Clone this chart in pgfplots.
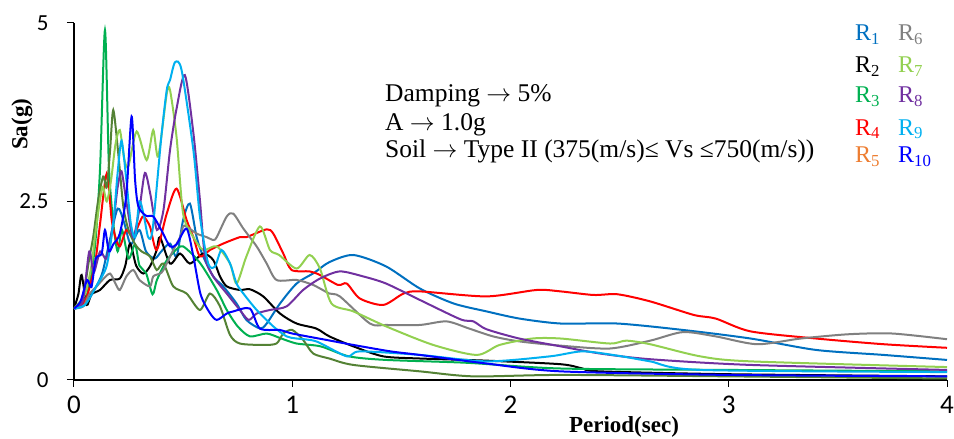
\documentclass[border=0pt]{standalone}
\usepackage{fontspec}
\setmainfont{Liberation Serif}
\newfontfamily\carlito{Carlito}
\usepackage{graphicx}
\usepackage{pgfplots}
\pgfplotsset{compat=1.18}
\definecolor{cA}{HTML}{0070C0}
\definecolor{cC}{HTML}{00B050}
\definecolor{cD}{HTML}{FF0000}
\definecolor{cE}{HTML}{548235}
\definecolor{cEleg}{HTML}{ED7D31}
\definecolor{cF}{HTML}{808080}
\definecolor{cG}{HTML}{92D050}
\definecolor{cH}{HTML}{7030A0}
\definecolor{cI}{HTML}{00B0F0}
\definecolor{cJ}{HTML}{0000FF}
\begin{document}
\begin{tikzpicture}
\begin{axis}[name=ax, x=218.3pt, y=71.4pt,
  xmin=0, xmax=4, ymin=0, ymax=5,
  axis lines*=left,
  axis line style={line width=2pt},
  xtick={0,1,2,3,4}, ytick={0,2.5,5},
  tick align=outside, major tick length=7pt,
  tick style={black, line width=1pt},
  /pgf/number format/assume math mode=true,
  yticklabel style={font=\fontsize{23}{26}\selectfont\carlito, xshift=-15pt},
  xticklabel style={font=\fontsize{27}{30}\selectfont\carlito, yshift=-6pt},
  xlabel={\fontsize{23}{27}\selectfont\bfseries Period(sec)},
  ylabel={\fontsize{23}{27}\selectfont\bfseries Sa(g)},
  xlabel style={at={(axis description cs:0.63,-0.1485)}, anchor=base},
  ylabel style={at={(axis description cs:-0.0596,0.716)}, anchor=center},
  every axis plot/.append style={line width=2pt, smooth, tension=0.45, no markers},
]
% R1
\addplot[cA] coordinates {(0,1.0)(0.05,1.05)(0.1,1.3)(0.13,1.5)(0.16,1.9)(0.2,2.4)(0.23,2.2)(0.26,1.9)(0.3,2.1)(0.33,1.8)(0.37,1.7)(0.4,1.8)(0.44,1.91)(0.47,1.73)(0.5,2.24)(0.531,2.47)(0.562,2.0)(0.592,1.73)(0.638,1.45)(0.684,1.31)(0.745,1.07)(0.79,0.84)(0.852,0.72)(0.883,0.79)(0.944,1.07)(1.02,1.35)(1.1,1.5)(1.17,1.65)(1.28,1.75)(1.43,1.59)(1.585,1.28)(1.74,1.07)(1.89,0.96)(2.04,0.86)(2.23,0.79)(2.49,0.79)(2.79,0.70)(3.10,0.58)(3.40,0.42)(3.71,0.35)(4,0.28)};
% R2
\addplot[black] coordinates {(0,1.0)(0.02,1.2)(0.035,1.47)(0.058,1.05)(0.08,1.2)(0.119,1.26)(0.165,1.40)(0.21,1.42)(0.235,1.6)(0.257,1.91)(0.285,1.6)(0.318,1.49)(0.35,1.6)(0.379,1.82)(0.394,2.0)(0.44,1.63)(0.486,1.77)(0.531,1.63)(0.592,1.77)(0.638,1.68)(0.669,1.45)(0.70,1.31)(0.76,1.26)(0.806,1.27)(0.867,1.17)(0.944,0.93)(1.02,0.79)(1.11,0.72)(1.17,0.61)(1.28,0.47)(1.417,0.33)(1.585,0.30)(1.89,0.27)(2.23,0.22)(2.33,0.16)(2.41,0.12)(3,0.08)(4,0.05)};
% R3
\addplot[cC] coordinates {(0,1.0)(0.05,1.1)(0.08,1.5)(0.10,2.0)(0.12,3.0)(0.142,4.9)(0.16,3.0)(0.18,2.2)(0.2,1.8)(0.22,2.1)(0.25,1.7)(0.28,1.9)(0.3,1.6)(0.33,1.5)(0.36,1.2)(0.38,1.4)(0.42,1.65)(0.46,1.8)(0.5,1.87)(0.577,1.64)(0.654,1.26)(0.70,0.98)(0.75,0.75)(0.806,0.61)(0.883,0.65)(0.95,0.58)(1.02,0.51)(1.13,0.47)(1.26,0.33)(1.43,0.28)(1.8,0.24)(2.23,0.16)(3,0.14)(4,0.12)};
% R4
\addplot[cD] coordinates {(0,1.0)(0.05,1.1)(0.08,1.4)(0.1,1.7)(0.12,2.2)(0.15,2.89)(0.173,2.24)(0.19,2.0)(0.21,1.87)(0.24,2.1)(0.27,2.0)(0.3,2.2)(0.318,2.29)(0.348,2.15)(0.379,1.82)(0.425,2.33)(0.47,2.68)(0.516,2.24)(0.547,2.0)(0.577,1.73)(0.623,1.82)(0.684,1.91)(0.76,2.0)(0.79,2.0)(0.883,2.11)(0.913,2.05)(0.959,1.77)(0.997,1.54)(1.08,1.52)(1.127,1.47)(1.21,1.33)(1.25,1.35)(1.31,1.14)(1.417,1.05)(1.51,1.21)(1.585,1.24)(1.89,1.17)(2.12,1.26)(2.23,1.24)(2.38,1.19)(2.49,1.2)(2.64,1.10)(2.84,0.91)(2.94,0.86)(3.10,0.68)(3.40,0.58)(3.71,0.50)(4,0.45)};
% R5
\addplot[cE] coordinates {(0,1.0)(0.03,1.05)(0.05,1.31)(0.07,1.7)(0.088,2.0)(0.111,2.52)(0.134,2.85)(0.15,2.7)(0.165,3.2)(0.18,3.78)(0.203,3.17)(0.226,2.43)(0.25,2.1)(0.28,1.9)(0.31,1.8)(0.348,1.73)(0.379,1.54)(0.41,1.63)(0.455,1.31)(0.516,1.21)(0.577,0.98)(0.623,1.21)(0.669,1.03)(0.715,0.63)(0.76,0.51)(0.867,0.49)(0.928,0.51)(0.959,0.65)(1.0,0.70)(1.05,0.56)(1.096,0.37)(1.17,0.30)(1.28,0.21)(1.585,0.12)(1.83,0.05)(2.23,0.07)(3,0.05)(4,0.02)};
% R6
\addplot[cF] coordinates {(0,1.0)(0.043,1.03)(0.07,1.2)(0.104,1.31)(0.13,1.4)(0.165,1.49)(0.19,1.35)(0.21,1.26)(0.24,1.45)(0.272,1.54)(0.3,1.4)(0.348,1.31)(0.363,1.45)(0.394,1.49)(0.41,1.54)(0.455,1.82)(0.486,2.0)(0.50,2.15)(0.516,2.15)(0.562,2.05)(0.608,2.0)(0.638,1.96)(0.654,2.0)(0.70,2.29)(0.73,2.33)(0.776,2.12)(0.837,1.87)(0.883,1.63)(0.928,1.40)(1.02,1.40)(1.096,1.33)(1.17,1.21)(1.218,1.17)(1.356,0.79)(1.43,0.77)(1.585,0.77)(1.707,0.82)(1.81,0.72)(1.92,0.61)(2.04,0.54)(2.23,0.48)(2.455,0.44)(2.64,0.55)(2.79,0.67)(2.94,0.61)(3.13,0.50)(3.33,0.58)(3.55,0.64)(3.75,0.65)(4,0.57)};
% R7
\addplot[cG] coordinates {(0,1.0)(0.05,1.2)(0.08,1.6)(0.1,2.1)(0.13,2.7)(0.15,2.5)(0.17,2.8)(0.19,3.3)(0.21,3.5)(0.23,3.1)(0.249,2.99)(0.287,3.48)(0.333,3.08)(0.363,3.5)(0.386,3.13)(0.425,4.01)(0.44,4.06)(0.47,3.4)(0.50,2.33)(0.547,2.0)(0.592,1.82)(0.654,1.87)(0.715,1.63)(0.745,1.35)(0.79,1.73)(0.852,2.15)(0.898,1.82)(0.94,1.75)(1.02,1.56)(1.08,1.75)(1.127,1.56)(1.18,1.07)(1.28,0.96)(1.43,0.75)(1.646,0.49)(1.845,0.35)(1.95,0.49)(2.10,0.58)(2.23,0.58)(2.455,0.51)(2.53,0.55)(2.64,0.50)(2.87,0.33)(3.10,0.26)(4,0.18)};
% R8
\addplot[cH] coordinates {(0,1.0)(0.04,1.1)(0.07,1.8)(0.09,1.5)(0.12,1.8)(0.15,1.7)(0.18,2.2)(0.2,2.7)(0.218,2.92)(0.24,2.5)(0.27,2.0)(0.3,2.4)(0.325,2.9)(0.35,2.6)(0.38,2.1)(0.41,2.38)(0.44,3.22)(0.47,3.8)(0.508,4.27)(0.547,3.46)(0.577,2.52)(0.60,1.73)(0.638,1.45)(0.70,1.21)(0.76,0.98)(0.80,0.84)(0.837,0.93)(0.898,0.98)(0.974,1.03)(1.05,1.26)(1.127,1.42)(1.218,1.52)(1.325,1.45)(1.43,1.35)(1.585,1.12)(1.77,0.85)(1.83,0.82)(1.89,0.71)(2.04,0.58)(2.23,0.47)(2.41,0.37)(2.64,0.29)(3.1,0.21)(4,0.14)};
% R9
\addplot[cI] coordinates {(0,1.0)(0.05,1.05)(0.1,1.3)(0.15,1.6)(0.18,2.2)(0.2,2.9)(0.218,3.35)(0.24,2.8)(0.26,2.2)(0.28,2.0)(0.3,2.5)(0.32,2.3)(0.34,2.0)(0.36,2.1)(0.4,3.4)(0.425,4.06)(0.44,4.2)(0.463,4.45)(0.493,4.34)(0.547,3.22)(0.577,2.29)(0.615,1.63)(0.646,1.59)(0.676,1.82)(0.715,1.63)(0.745,1.35)(0.776,1.21)(0.837,0.98)(0.913,0.75)(0.974,0.61)(1.02,0.58)(1.11,0.54)(1.25,0.33)(1.31,0.40)(1.585,0.35)(1.89,0.26)(2.18,0.33)(2.33,0.40)(2.49,0.34)(2.64,0.26)(2.87,0.14)(4,0.11)};
% R10
\addplot[cJ] coordinates {(0,1.0)(0.03,1.1)(0.06,1.4)(0.08,1.3)(0.1,1.7)(0.127,1.77)(0.142,2.1)(0.16,1.8)(0.18,1.9)(0.21,2.05)(0.24,2.6)(0.264,3.69)(0.28,2.8)(0.295,2.43)(0.33,2.3)(0.363,2.29)(0.4,2.1)(0.44,1.87)(0.47,1.9)(0.516,2.12)(0.547,1.73)(0.58,1.2)(0.62,0.95)(0.654,0.84)(0.70,0.93)(0.73,0.96)(0.806,1.0)(0.852,0.72)(0.944,0.70)(1.0,0.65)(1.157,0.56)(1.28,0.49)(1.45,0.40)(1.585,0.35)(1.89,0.23)(2.23,0.12)(3,0.07)(4,0.05)};
% annotation
\begin{scope}[every node/.style={anchor=base west, inner sep=0pt, font=\fontsize{25.5}{29}\selectfont}]
\node at (axis cs:1.425,3.90) {Damping $\rightarrow$ 5\%};
\node at (axis cs:1.425,3.50) {A $\rightarrow$ 1.0g};
\node at (axis cs:1.425,3.11) {Soil $\rightarrow$ Type II (375(m/s)≤ Vs ≤750(m/s))};
\end{scope}
% legend
\begin{scope}[every node/.style={anchor=base west, inner sep=0pt, font=\fontsize{24}{28}\selectfont}]
\node[text=cA] at (axis cs:3.578,4.75) {R\textsubscript{1}};
\node[text=black] at (axis cs:3.578,4.30) {R\textsubscript{2}};
\node[text=cC] at (axis cs:3.578,3.88) {R\textsubscript{3}};
\node[text=cD] at (axis cs:3.578,3.43) {R\textsubscript{4}};
\node[text=cEleg] at (axis cs:3.578,3.04) {R\textsubscript{5}};
\node[text=cF] at (axis cs:3.775,4.75) {R\textsubscript{6}};
\node[text=cG] at (axis cs:3.775,4.30) {R\textsubscript{7}};
\node[text=cH] at (axis cs:3.775,3.88) {R\textsubscript{8}};
\node[text=cI] at (axis cs:3.775,3.43) {R\textsubscript{9}};
\node[text=cJ] at (axis cs:3.775,3.04) {R\textsubscript{10}};
\end{scope}
\end{axis}
\pgfresetboundingbox
\path ([xshift=-74pt,yshift=-59pt]ax.south west) rectangle ([xshift=7pt,yshift=23pt]ax.north east);
\end{tikzpicture}
\end{document}
